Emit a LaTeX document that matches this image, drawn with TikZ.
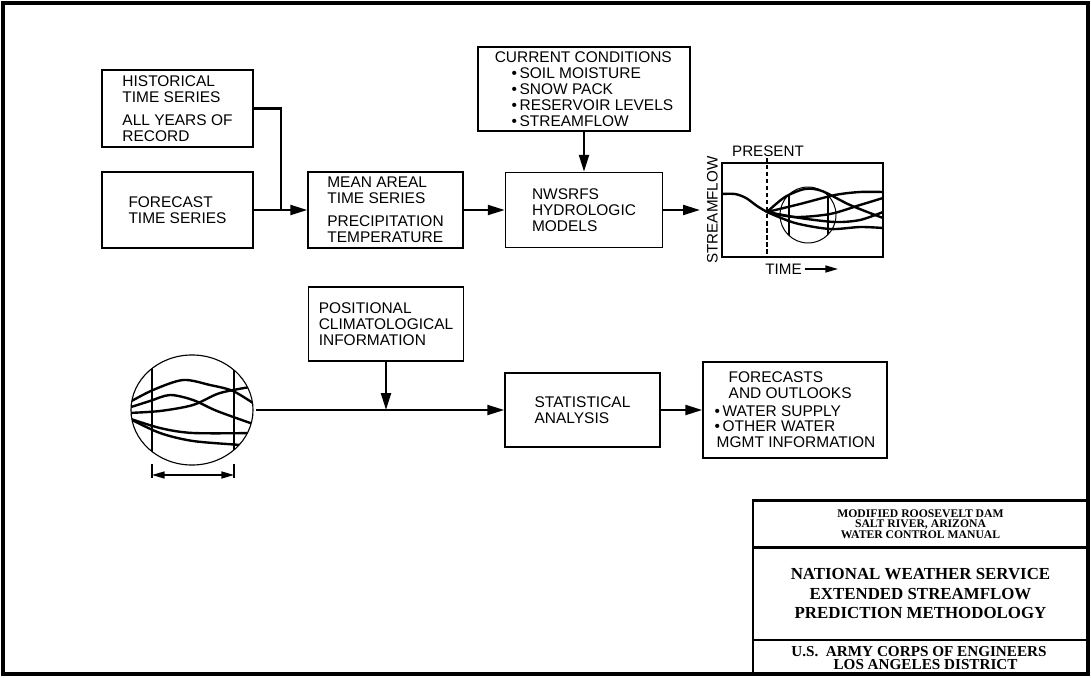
\documentclass[tikz,border=0pt]{standalone}
\usepackage{fontspec}
\setmainfont{Liberation Serif}
\setsansfont{Liberation Sans}
\usepackage{tikz}
\usetikzlibrary{arrows.meta,shapes.geometric}

\begin{document}
\begin{tikzpicture}[x=0.025cm,y=-0.025cm]
        \tikzset{Box/.style={%
            shape=rectangle,%
            draw=black,%
            line width=1pt,%
            inner sep=0pt,%
            align=left,%
            font=\sffamily\fontsize{11}{11.3}\selectfont,%
        },
        Label/.style={%
            font=\sffamily\fontsize{10.8}{11}\selectfont,%
            inner sep=2pt,%
        },
        Cell/.style={%
            draw=black,%
            line width=2pt,%
            minimum width=8.375cm,%
            inner sep=0pt,%
        },
        Flow/.style={line width=1.7pt,-{Triangle[length=12pt,width=7pt]}},
        Curve/.style={line width=1.7pt}}

        \useasboundingbox (0,0) rectangle (1091,677);
        \draw[line width=2.8pt] (3,3) rectangle (1088,674);

        % upper chain
        \node[Box, minimum width=3.775cm, minimum height=1.925cm] (hist) at (177.5,108.5)
            {HISTORICAL\\TIME SERIES\\[5pt]ALL YEARS OF\\RECORD};
        \node[Box, minimum width=3.775cm, minimum height=1.9cm] (fcst) at (177.5,210)
            {FORECAST\\TIME SERIES};
        \node[Box, minimum width=3.875cm, minimum height=1.9cm] (mean) at (385.5,210)
            {MEAN AREAL\\TIME SERIES\\[5pt]PRECIPITATION\\TEMPERATURE};
        \node[Box, minimum width=5.3cm, minimum height=2.1cm] (cur) at (584,89)
            {CURRENT CONDITIONS\\\hspace*{12pt}•\,SOIL MOISTURE\\\hspace*{12pt}•\,SNOW PACK\\\hspace*{12pt}•\,RESERVOIR LEVELS\\\hspace*{12pt}•\,STREAMFLOW};
        \node[Box, minimum width=3.925cm, minimum height=1.875cm] (nws) at (584,210)
            {NWSRFS\\HYDROLOGIC\\MODELS};

        \coordinate (jn) at (281,210);
        \coordinate (gin) at (700,210);
        \draw[line width=1.7pt] (hist.east) -| (jn);
        \path (fcst) edge[Flow] (mean);
        \path (mean) edge[Flow] (nws);
        \path (cur) edge[Flow] (nws);
        \path (nws) edge[Flow] (gin);

        % streamflow traces
        \node[draw, line width=1.1pt, minimum width=4.025cm, minimum height=2.35cm, inner sep=0pt] (plot) at (802.5,210) {};
        \node[Label] (present) at (768,151) {PRESENT};
        \node[Label, rotate=90] (sflow) at (712.5,210) {STREAMFLOW};
        \node[Label] (time) at (783.5,269) {TIME};
        \coordinate (tend) at (838,269);
        \path (time) edge[line width=1pt, -{Triangle[length=9pt,width=5pt]}] (tend);
        \draw[line width=0.8pt, dash pattern=on 3pt off 2pt] (767,158) -- (767,257);
        \draw[Curve] plot[smooth] coordinates {(722,194) (735,194) (746,198) (757,206) (767,212)};
        \draw[Curve] plot[smooth] coordinates {(767,212) (785,197) (805,189) (822,191) (850,205) (883,218)};
        \draw[Curve] plot[smooth] coordinates {(767,212) (800,204) (835,195) (860,192) (883,192)};
        \draw[Curve] plot[smooth] coordinates {(767,212) (795,217) (830,214) (860,205) (883,198)};
        \draw[Curve] plot[smooth] coordinates {(767,212) (800,218) (835,222) (860,220) (883,212)};
        \draw[Curve] plot[smooth] coordinates {(767,212) (795,223) (830,229) (860,227) (883,228)};
        \draw[line width=0.7pt] (808,215) circle [radius=28];
        \begin{scope}
            \clip (808,215) circle [radius=28];
            \draw[line width=0.9pt] (789,180) -- (789,250) (828,180) -- (828,250);
        \end{scope}

        % lower chain
        \node[draw, ellipse, line width=0.8pt, minimum width=3.05cm, minimum height=2.75cm, inner sep=0pt] (lcirc) at (192,410) {};
        \begin{scope}
            \clip (192,410) ellipse [x radius=61, y radius=55];
            \draw[line width=1pt] (152,340) -- (152,480) (234,340) -- (234,480);
            \draw[Curve] plot[smooth] coordinates {(128,403) (153,390) (183,380) (210,385) (233,391) (256,405)};
            \draw[Curve] plot[smooth] coordinates {(128,408) (150,401) (170,395) (193,400) (217,411) (256,425)};
            \draw[Curve] plot[smooth] coordinates {(128,413) (160,411) (193,405) (220,393) (256,386)};
            \draw[Curve] plot[smooth] coordinates {(128,418) (160,428) (193,433) (256,433)};
            \draw[Curve] plot[smooth] coordinates {(128,418) (160,433) (193,441) (240,445) (256,447)};
        \end{scope}
        \coordinate (dl) at (152,475);
        \coordinate (dr) at (234,475);
        \draw[line width=1pt] (152,464) -- (152,478) (234,464) -- (234,478);
        \draw[line width=1pt, {Triangle[length=9pt,width=5pt]}-{Triangle[length=9pt,width=5pt]}] (dl) -- (dr);

        \node[Box, minimum width=3.875cm, minimum height=1.85cm] (pos) at (386,324)
            {POSITIONAL\\CLIMATOLOGICAL\\INFORMATION};
        \node[Box, minimum width=3.875cm, minimum height=1.85cm] (stat) at (582.5,410)
            {STATISTICAL\\ANALYSIS};
        \node[Box, minimum width=4.6cm, minimum height=2.4cm] (fore) at (795,410)
            {\hspace*{10pt}FORECASTS\\\hspace*{10pt}AND OUTLOOKS\\[1pt]•\,WATER SUPPLY\\•\,OTHER WATER\\\hspace*{1.5pt}MGMT INFORMATION};

        \coordinate (jp) at (386,410);
        \path (lcirc) edge[Flow, shorten <=2pt] (stat);
        \path (pos) edge[Flow] (jp);
        \path (stat) edge[Flow] (fore);

        % title block
        \node[Cell, minimum height=1.175cm, align=center, font=\bfseries\fontsize{8.3}{7.4}\selectfont] (tb1) at (920.5,524)
            {MODIFIED ROOSEVELT DAM\\SALT RIVER, ARIZONA\\WATER CONTROL MANUAL};
        \node[Cell, minimum height=2.325cm, align=center, font=\bfseries\fontsize{12}{14.2}\selectfont] (tb2) at (920.5,593.5)
            {NATIONAL WEATHER SERVICE\\EXTENDED STREAMFLOW\\PREDICTION METHODOLOGY};
        \node[Cell, minimum height=0.85cm] (tb3) at (920.5,657) {};
        \node[align=left, inner sep=0pt, font=\bfseries\fontsize{10.8}{9.8}\selectfont] (tb3t) at (919,658)
            {U.S.\ \ ARMY CORPS OF ENGINEERS\\\hspace*{30pt}LOS ANGELES DISTRICT};
\end{tikzpicture}
\end{document}
